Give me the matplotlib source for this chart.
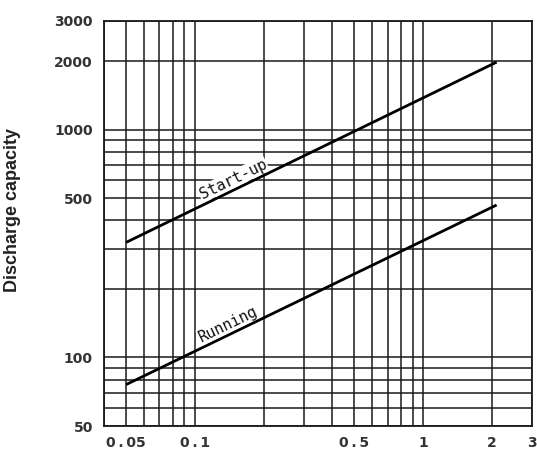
import matplotlib
matplotlib.use("Agg")
import matplotlib.pyplot as plt
import numpy as np
from matplotlib.ticker import FixedLocator, LogLocator, NullFormatter

# Data
flow_x = [0.05, 2.1]
startup = [320, 1980]
running = [76, 467]
xtick_vals = [0.05, 0.1, 0.5, 1, 2, 3]
xtick_labels = ["0.05", "0.1", "0.5", "1", "2", "3"]
ytick_vals = [50, 100, 500, 1000, 2000, 3000]
ytick_labels = ["50", "100", "500", "1000", "2000", "3000"]

def spaced(s):
    return s.replace(".", "\u2009.\u2009")

fig = plt.figure(figsize=(5.37, 4.51), dpi=100)
ax = fig.add_axes([104/537, 1-426/451, (532-104)/537, (426-21)/451])
ax.set_xscale("log")
ax.set_yscale("log")
ax.set_xlim(0.04, 3)
ax.set_ylim(50, 3000)

gc = "#1a1a1a"
tick_font = dict(family="DejaVu Sans", size=10, weight="bold", color="#333333")
ax.xaxis.set_major_locator(FixedLocator(xtick_vals))
ax.set_xticklabels([spaced(t) for t in xtick_labels], fontdict=tick_font)
ax.xaxis.set_minor_locator(LogLocator(base=10, subs=np.arange(1, 10)))
ax.xaxis.set_minor_formatter(NullFormatter())
ax.yaxis.set_major_locator(FixedLocator(ytick_vals))
ax.set_yticklabels(ytick_labels, fontdict=tick_font)
ax.yaxis.set_minor_locator(LogLocator(base=10, subs=np.arange(1, 10)))
ax.yaxis.set_minor_formatter(NullFormatter())
ax.grid(True, which="both", color=gc, linewidth=1.1)
ax.tick_params(which="both", length=0)
ax.tick_params(axis="x", pad=7)
ax.tick_params(axis="y", pad=8)
for s in ax.spines.values():
    s.set_color(gc)
    s.set_linewidth(1.3)

ax.plot(flow_x, startup, color="black", linewidth=2, solid_capstyle="butt", zorder=3)
ax.plot(flow_x, running, color="black", linewidth=2, solid_capstyle="butt", zorder=3)

# rotation angle from display coords
fig.canvas.draw()
p0 = ax.transData.transform((flow_x[0], startup[0]))
p1 = ax.transData.transform((flow_x[1], startup[1]))
ang = np.degrees(np.arctan2(p1[1]-p0[1], p1[0]-p0[0]))

def label_on(x, series, txt, off):
    slope = np.log10(series[1]/series[0]) / np.log10(flow_x[1]/flow_x[0])
    y = series[0] * (x/flow_x[0])**slope
    ax.annotate(txt, xy=(x, y), xytext=(0, off), textcoords="offset points",
                rotation=ang, rotation_mode="anchor", ha="center", va="bottom",
                fontfamily="DejaVu Sans Mono", fontsize=11,
                color="#111111", zorder=4,
                bbox=dict(facecolor="white", edgecolor="none", pad=0.5))

label_on(0.152, startup, "Start-up", 2)
label_on(0.145, running, "Running", 2)

fig.text(13/537, 1-210/451, "Discharge capacity", rotation=90, ha="center", va="center",
         fontfamily="Liberation Sans", fontweight="bold", fontsize=13, color="#222222")

fig.savefig("out.png", dpi=100)
